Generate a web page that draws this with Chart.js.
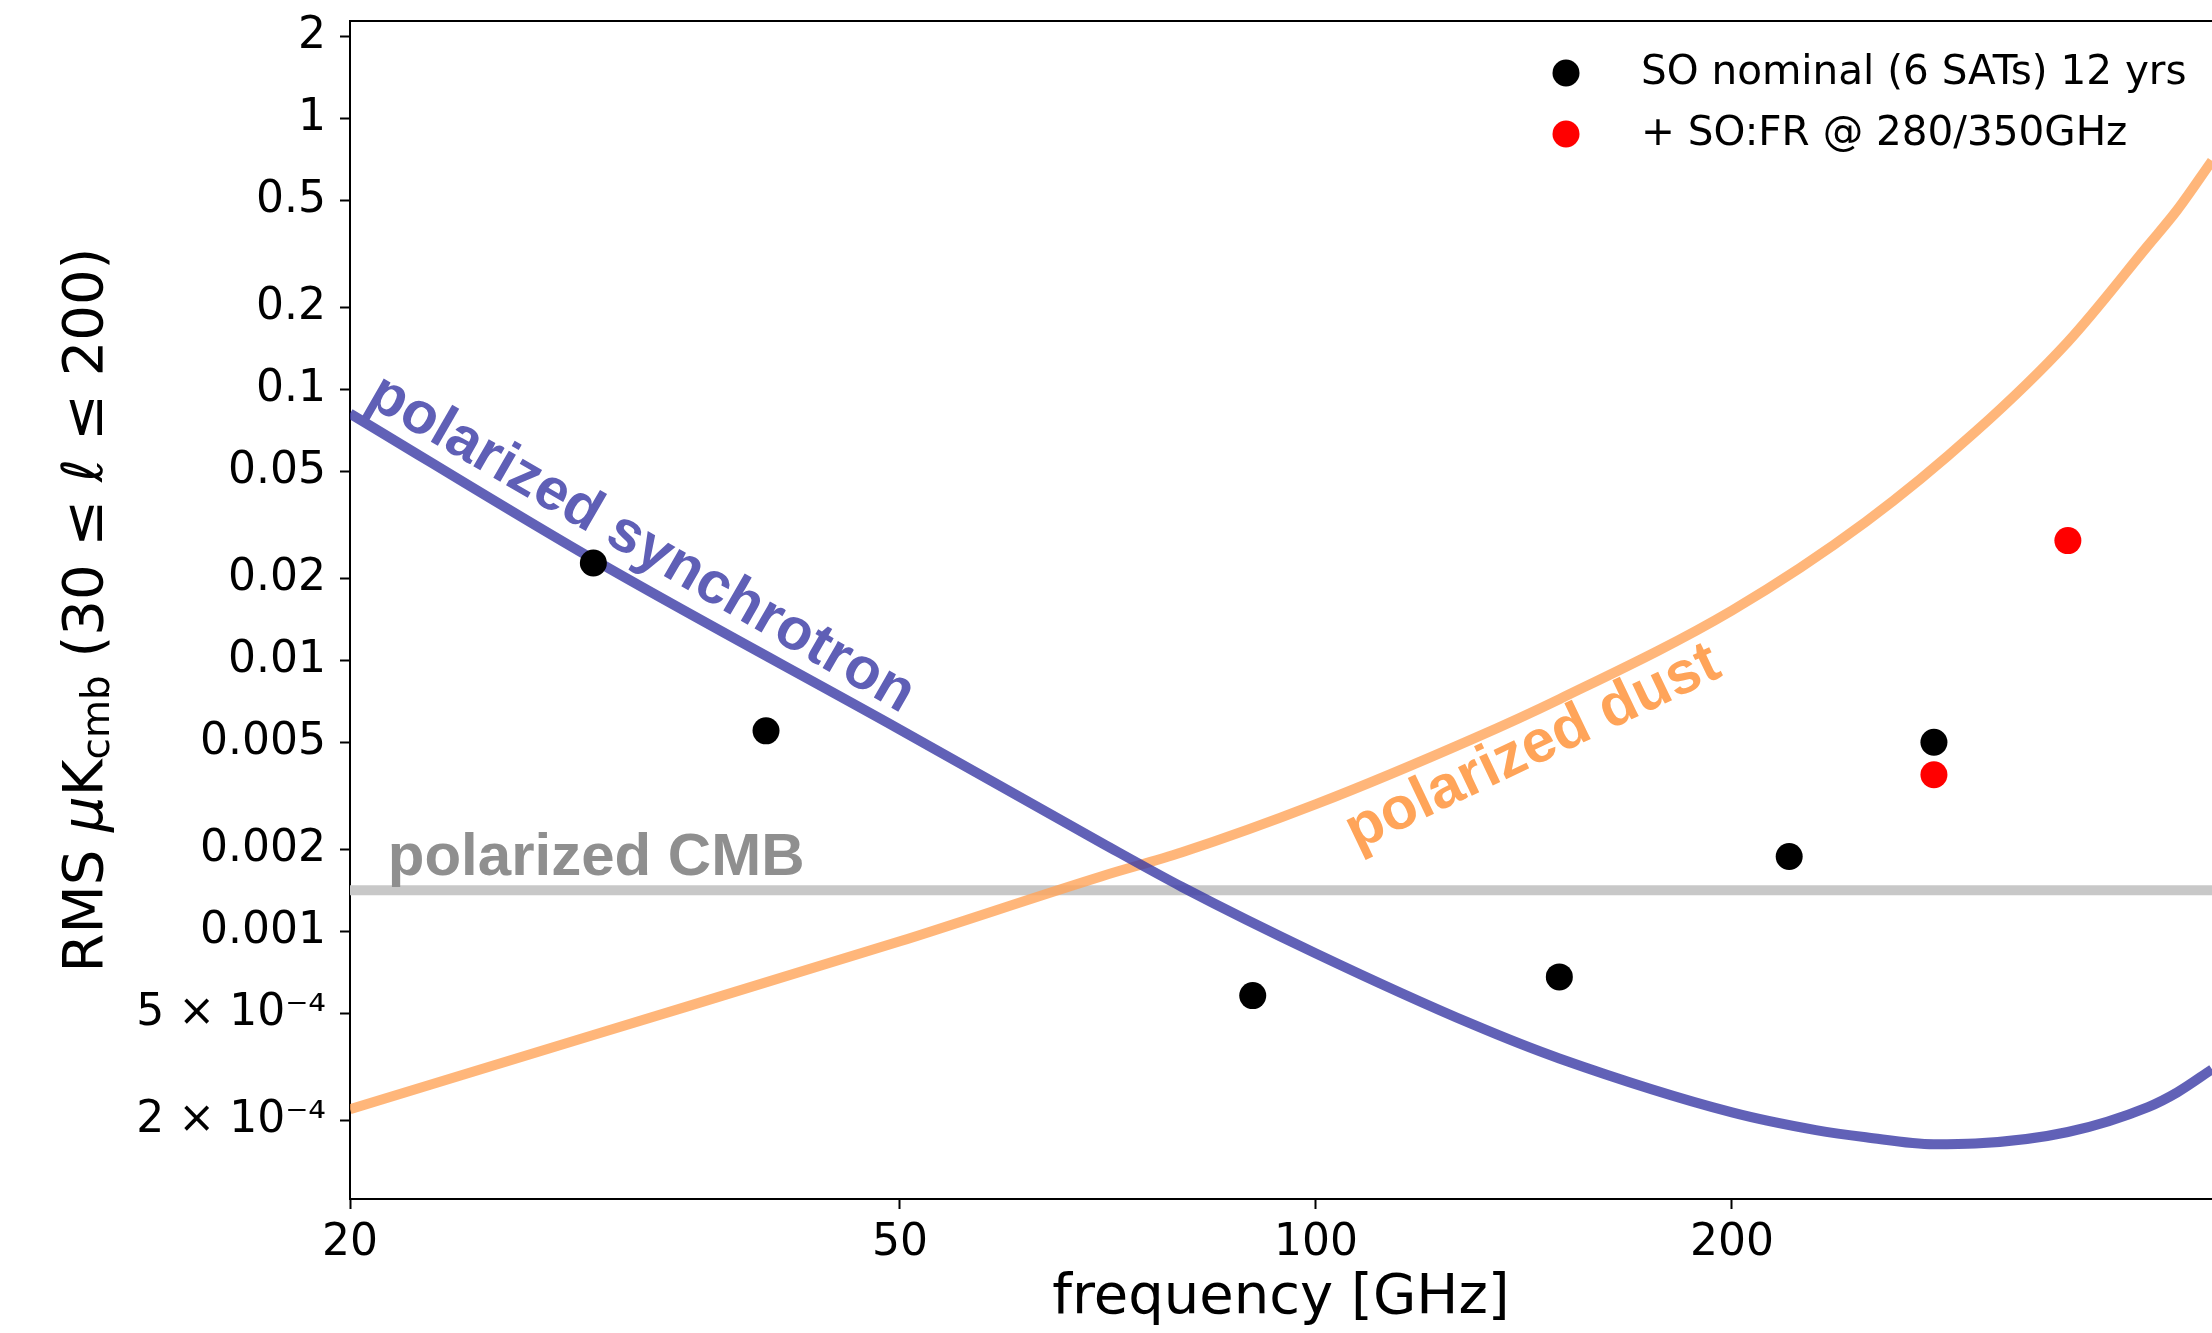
<!DOCTYPE html>
<html>
<head>
<meta charset="utf-8">
<script src="https://cdn.jsdelivr.net/npm/chart.js@4.4.1/dist/chart.umd.min.js"></script>
<style>
  html, body { margin: 0; padding: 0; background: #fff; overflow: hidden; }
  canvas { display: block; }
</style>
</head>
<body>
<canvas id="fgChart" width="2212" height="1333"></canvas>
<script>
// values (frequency in GHz, RMS in uK_cmb)
const synchFreqs = [20, 30, 50, 70, 80, 100, 130, 150, 200, 230, 250, 280, 300, 350, 400, 420, 445];
const synchValues = [0.0815, 0.0236, 0.00556, 0.00212, 0.00146, 8.3e-4, 4.53e-4, 3.4e-4, 2.15e-4, 1.85e-4, 1.74e-4, 1.64e-4, 1.65e-4, 1.82e-4, 2.25e-4, 2.55e-4, 3.1e-4];

const dustFreqs = [20, 30, 50, 70, 80, 100, 130, 150, 200, 250, 300, 350, 400, 420, 445];
const dustValues = [2.21e-4, 4.15e-4, 9.2e-4, 1.6e-3, 1.96e-3, 2.95e-3, 5.15e-3, 7.2e-3, 0.0153, 0.0325, 0.0698, 0.150, 0.340, 0.46, 0.698];

const cmbFreqs = [20, 445];
const cmbValues = [1.42e-3, 1.42e-3];

const soFreqs = [30, 40, 90, 150, 220, 280];
const soValues = [0.0229, 0.0055, 5.8e-4, 6.8e-4, 1.89e-3, 4.99e-3];

const frFreqs = [280, 350];
const frValues = [3.79e-3, 0.0277];

const xTicks = [20, 50, 100, 200];
const yTicks = [2, 1, 0.5, 0.2, 0.1, 0.05, 0.02, 0.01, 0.005, 0.002, 0.001, 5e-4, 2e-4];
const yTickLabels = ['2', '1', '0.5', '0.2', '0.1', '0.05', '0.02', '0.01', '0.005', '0.002', '0.001', '5 \u00d7 10\u207b\u2074', '2 \u00d7 10\u207b\u2074'];

const toPoints = (xs, ys) => xs.map((x, i) => ({ x: x, y: ys[i] }));

Chart.defaults.font.family = 'DejaVu Sans';
Chart.defaults.color = '#000';

// text written along the curves
const curveLabels = [
  { text: 'polarized synchrotron', freq: 20.5, value: 0.0887, angle: 30, size: 59, color: '#5f5fb6' },
  { text: 'polarized dust', freq: 107, value: 1.99e-3, angle: -25.5, size: 60, color: '#ffa459' },
  { text: 'polarized CMB', freq: 21.3, value: 1.61e-3, angle: 0, size: 60, color: '#8f8f8f' }
];

const extrasPlugin = {
  id: 'extras',
  afterDatasetsDraw(chart) {
    const ctx = chart.ctx;
    const area = chart.chartArea;
    const xs = chart.scales.x, ys = chart.scales.y;

    // top spine
    ctx.save();
    ctx.strokeStyle = '#000';
    ctx.lineWidth = 2;
    ctx.beginPath();
    ctx.moveTo(area.left, area.top);
    ctx.lineTo(area.right, area.top);
    ctx.stroke();
    ctx.restore();

    // curve labels
    curveLabels.forEach(l => {
      ctx.save();
      ctx.translate(xs.getPixelForValue(l.freq), ys.getPixelForValue(l.value));
      ctx.rotate(l.angle * Math.PI / 180);
      ctx.font = 'bold ' + l.size + 'px "Liberation Sans"';
      ctx.fillStyle = l.color;
      ctx.textAlign = 'left';
      ctx.textBaseline = 'alphabetic';
      ctx.fillText(l.text, 0, 0);
      ctx.restore();
    });

    // legend inside the axes, top right
    const items = chart.data.datasets.filter(d => d.showInLegend);
    ctx.save();
    ctx.font = '40.5px "DejaVu Sans"';
    ctx.textBaseline = 'middle';
    items.forEach((d, i) => {
      const y = area.top + 52 + i * 61;
      const mx = area.right - 646;
      ctx.fillStyle = d.pointBackgroundColor;
      ctx.beginPath();
      ctx.arc(mx, y, 13.5, 0, Math.PI * 2);
      ctx.fill();
      ctx.fillStyle = '#000';
      ctx.fillText(d.label, mx + 75, y);
    });
    ctx.restore();

    // y axis title with subscript
    const parts = [
      { t: 'RMS ', f: '56px "DejaVu Sans"', dy: 0 },
      { t: '\u03bc', f: 'italic 56px "DejaVu Sans"', dy: 0 },
      { t: 'K', f: '56px "DejaVu Sans"', dy: 0 },
      { t: 'cmb', f: '39px "DejaVu Sans"', dy: 12 },
      { t: ' (30 \u2264 ', f: '56px "DejaVu Sans"', dy: 0 },
      { t: '\u2113', f: 'italic 56px "DejaVu Sans"', dy: 0 },
      { t: ' \u2264 200)', f: '56px "DejaVu Sans"', dy: 0 }
    ];
    ctx.save();
    let total = 0;
    parts.forEach(p => { ctx.font = p.f; p.w = ctx.measureText(p.t).width; total += p.w; });
    ctx.translate(87, (area.top + area.bottom) / 2);
    ctx.rotate(-Math.PI / 2);
    ctx.fillStyle = '#000';
    ctx.textBaseline = 'middle';
    ctx.textAlign = 'left';
    let cx = -total / 2;
    parts.forEach(p => {
      ctx.font = p.f;
      ctx.fillText(p.t, cx, p.dy);
      cx += p.w;
    });
    ctx.restore();
  }
};

new Chart(document.getElementById('fgChart').getContext('2d'), {
  type: 'line',
  data: {
    datasets: [
      {
        label: 'SO nominal (6 SATs) 12 yrs',
        data: toPoints(soFreqs, soValues),
        showLine: false,
        pointRadius: 13.5,
        pointBackgroundColor: '#000',
        pointBorderWidth: 0,
        showInLegend: true
      },
      {
        label: '+ SO:FR @ 280/350GHz',
        data: toPoints(frFreqs, frValues),
        showLine: false,
        pointRadius: 13.5,
        pointBackgroundColor: '#ff0000',
        pointBorderWidth: 0,
        showInLegend: true
      },
      {
        label: 'polarized synchrotron',
        data: toPoints(synchFreqs, synchValues),
        borderColor: 'rgba(58, 58, 165, 0.8)',
        borderWidth: 10,
        pointRadius: 0,
        cubicInterpolationMode: 'monotone'
      },
      {
        label: 'polarized dust',
        data: toPoints(dustFreqs, dustValues),
        borderColor: 'rgba(255, 164, 89, 0.8)',
        borderWidth: 10,
        pointRadius: 0,
        cubicInterpolationMode: 'monotone'
      },
      {
        label: 'polarized CMB',
        data: toPoints(cmbFreqs, cmbValues),
        borderColor: '#c8c8c8',
        borderWidth: 10,
        pointRadius: 0
      }
    ]
  },
  options: {
    responsive: false,
    animation: false,
    layout: { autoPadding: false, padding: { top: 21, right: 0, bottom: 0, left: 0 } },
    plugins: { legend: { display: false }, tooltip: { enabled: false } },
    scales: {
      x: {
        type: 'logarithmic',
        min: 20,
        max: 445,
        afterFit: (s) => { s.height = 134; s.paddingLeft = 0; s.paddingRight = 0; },
        afterBuildTicks: (s) => { s.ticks = xTicks.map(v => ({ value: v })); },
        ticks: {
          autoSkip: false,
          maxRotation: 0,
          padding: 8,
          color: '#000',
          font: { size: 44 },
          callback: (v) => String(v)
        },
        grid: { drawOnChartArea: false, tickLength: 10, tickWidth: 2, tickColor: '#000' },
        border: { color: '#000', width: 2 },
        title: {
          display: true,
          text: 'frequency [GHz]',
          color: '#000',
          font: { size: 56, lineHeight: 1.2 },
          padding: { top: 0, bottom: 1 }
        }
      },
      y: {
        type: 'logarithmic',
        min: 1.03e-4,
        max: 2.29,
        afterFit: (s) => { s.width = 350; s.paddingTop = 0; s.paddingBottom = 0; },
        afterBuildTicks: (s) => { s.ticks = yTicks.map(v => ({ value: v })); },
        ticks: {
          autoSkip: false,
          padding: 14,
          color: '#000',
          font: { size: 44, lineHeight: 0.8 },
          callback: (v) => yTickLabels[yTicks.indexOf(v)]
        },
        grid: { drawOnChartArea: false, tickLength: 10, tickWidth: 2, tickColor: '#000' },
        border: { color: '#000', width: 2 }
      }
    }
  },
  plugins: [extrasPlugin]
});
</script>
</body>
</html>
